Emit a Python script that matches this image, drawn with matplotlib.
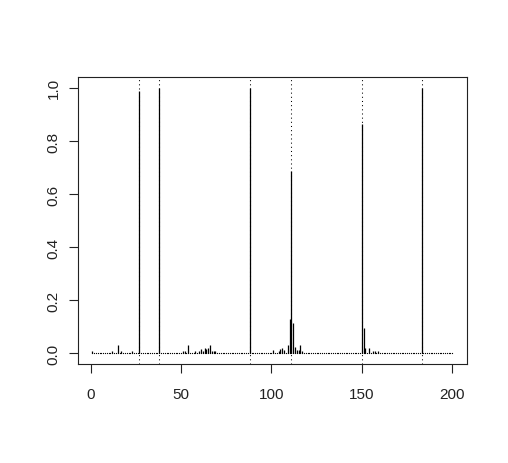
import numpy as np
import matplotlib
matplotlib.use("Agg")
import matplotlib.pyplot as plt

plt.rcParams['font.family'] = ['Liberation Sans', 'DejaVu Sans']

# index 1..200, most entries are zero
n = 200
spike_x = [1, 12, 15, 17, 23, 27, 38,
           51, 52, 54, 58, 60, 61, 62, 63, 64, 65, 66, 67, 68, 69,
           88,
           101, 104, 105, 106, 107, 109, 110, 111, 112, 113, 114, 115, 116, 117,
           150, 151, 152, 154, 156, 157, 159,
           183]
spike_y = [0.01, 0.01, 0.03, 0.01, 0.01, 0.99, 1.0,
           0.01, 0.01, 0.03, 0.01, 0.01, 0.015, 0.01, 0.02, 0.015, 0.02, 0.03, 0.01, 0.01, 0.01,
           1.0,
           0.012, 0.01, 0.015, 0.02, 0.012, 0.03, 0.13, 0.687, 0.113, 0.025, 0.012, 0.012, 0.03, 0.01,
           0.864, 0.094, 0.02, 0.02, 0.01, 0.01, 0.01,
           1.0]
change_points = [27, 38, 88, 111, 150, 183]

x = np.arange(1, n + 1)
y = np.zeros(n)
y[np.array(spike_x) - 1] = spike_y

fig = plt.figure(figsize=(5.08, 4.64), dpi=100)
ax = fig.add_axes([0.1535, 0.2134, 0.7652, 0.6179])

ax.vlines(x, 0, y, color='black', lw=0.9)
ax.plot(x, np.zeros(n), ls='none', marker='o', ms=0.9, mew=0, color='black')
for v in change_points:
    ax.axvline(v, color='black', lw=0.75, ls=(0, (1, 3)))

ax.set_xlim(1 - 0.04 * 199, 200 + 0.04 * 199)
ax.set_ylim(-0.04, 1.04)
ax.set_xticks([0, 50, 100, 150, 200])
ax.set_yticks([0.0, 0.2, 0.4, 0.6, 0.8, 1.0])
ax.set_yticklabels(['0.0', '0.2', '0.4', '0.6', '0.8', '1.0'], rotation=90, va='center')
ax.tick_params(direction='out', length=6.5, width=0.8, labelsize=11, pad=10, colors='#222222')
ax.tick_params(axis='y', pad=6)
for s in ax.spines.values():
    s.set_linewidth(0.8)
    s.set_color('#222222')

fig.savefig('out.png', dpi=100)
